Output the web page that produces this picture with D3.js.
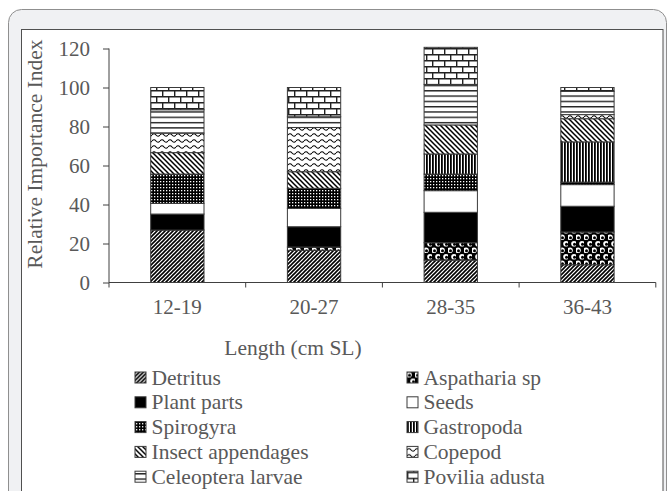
<!DOCTYPE html>
<html lang="en">
<head>
  <meta charset="utf-8">
  <title>Relative Importance Index</title>
  <script src="https://cdn.jsdelivr.net/npm/d3@7/dist/d3.min.js"></script>
  <style>
    body { margin: 0; background: #fff; }
  </style>
</head>
<body>
  <script>
    // data
    var categories = ["12-19", "20-27", "28-35", "36-43"];
    var seriesNames = ["Detritus", "Aspatharia sp", "Plant parts", "Seeds", "Spirogyra",
                       "Gastropoda", "Insect appendages", "Copepod", "Celeoptera larvae", "Povilia adusta"];
    var detritus   = [26.9, 16.5, 11.5, 9.1];
    var aspatharia = [0, 1.7, 8.9, 16.8];
    var plantParts = [8.2, 10.4, 15.6, 13.2];
    var seeds      = [5.5, 9.4, 11.1, 11.1];
    var spirogyra  = [15, 10.3, 8.5, 1.3];
    var gastropoda = [0, 0, 10.3, 20.6];
    var insect     = [11, 8.5, 14.9, 11.9];
    var copepod    = [10, 22.7, 0, 2.1];
    var celeoptera = [12, 5.5, 20.8, 11.9];
    var povilia    = [11.4, 15, 19, 2.0];
    var yTicks = [0, 20, 40, 60, 80, 100, 120];

    var seriesValues = [detritus, aspatharia, plantParts, seeds, spirogyra,
                        gastropoda, insect, copepod, celeoptera, povilia];
    var patternIds = ["p-detritus", "p-aspatharia", "p-plant", "p-seeds", "p-spirogyra",
                      "p-gastropoda", "p-insect", "p-copepod", "p-celeoptera", "p-povilia"];

    var serif = '"Liberation Serif", "Times New Roman", serif';
    var textGray = "#595959";

    var table = categories.map(function(c, i) {
      var row = { cat: c };
      seriesNames.forEach(function(s, j) { row[s] = seriesValues[j][i]; });
      return row;
    });

    var w = 669, h = 491;
    var svg = d3.select("body").append("svg")
                .attr("width", w)
                .attr("height", h)
                .style("font-family", serif);

    // panel frame
    svg.append("rect")
       .attr("x", 8.5).attr("y", 9.5)
       .attr("width", 658).attr("height", 520)
       .attr("rx", 13)
       .attr("fill", "#f0f1f3")
       .attr("stroke", "#8f8f8f");
    svg.append("rect")
       .attr("x", 21.5).attr("y", 29.5)
       .attr("width", 641.5).attr("height", 480)
       .attr("fill", "#fff")
       .attr("stroke", "#505050");

    // fill patterns
    var defs = svg.append("defs");
    function pat(id, pw, ph) {
      return defs.append("pattern")
                 .attr("id", id)
                 .attr("patternUnits", "userSpaceOnUse")
                 .attr("width", pw).attr("height", ph);
    }
    var p;
    p = pat("p-detritus", 4, 4);
    p.append("rect").attr("width", 4).attr("height", 4).attr("fill", "#fff");
    p.append("path").attr("d", "M-1,1 l2,-2 M0,4 l4,-4 M3,5 l2,-2")
     .attr("stroke", "#000").attr("stroke-width", 1.6);

    p = pat("p-aspatharia", 8, 13);
    p.append("rect").attr("width", 8).attr("height", 13).attr("fill", "#000");
    [[2, 3.2], [6, 9.7]].forEach(function(c) {
      p.append("circle").attr("cx", c[0]).attr("cy", c[1]).attr("r", 2.8).attr("fill", "#fff");
      p.append("circle").attr("cx", c[0] + 0.5).attr("cy", c[1] + 0.5).attr("r", 1.5).attr("fill", "#000");
    });

    p = pat("p-plant", 4, 4);
    p.append("rect").attr("width", 4).attr("height", 4).attr("fill", "#000");

    p = pat("p-seeds", 4, 4);
    p.append("rect").attr("width", 4).attr("height", 4).attr("fill", "#fff");

    p = pat("p-spirogyra", 3, 3);
    p.append("rect").attr("width", 3).attr("height", 3).attr("fill", "#000");
    p.append("rect").attr("x", 1).attr("y", 1).attr("width", 1.3).attr("height", 1.3).attr("fill", "#fff");

    p = pat("p-gastropoda", 3, 3);
    p.append("rect").attr("width", 3).attr("height", 3).attr("fill", "#fff");
    p.append("rect").attr("width", 1.8).attr("height", 3).attr("fill", "#000");

    p = pat("p-insect", 5, 5);
    p.append("rect").attr("width", 5).attr("height", 5).attr("fill", "#fff");
    p.append("path").attr("d", "M0,0 l5,5 M-1,4 l2,2 M4,-1 l2,2")
     .attr("stroke", "#000").attr("stroke-width", 1.5);

    p = pat("p-copepod", 8, 6);
    p.append("rect").attr("width", 8).attr("height", 6).attr("fill", "#fff");
    p.append("path").attr("d", "M0,3 Q2,0.5 4,3 T8,3")
     .attr("fill", "none").attr("stroke", "#000").attr("stroke-width", 1.1);

    p = pat("p-celeoptera", 5, 5.3);
    p.append("rect").attr("width", 5).attr("height", 5.3).attr("fill", "#fff");
    p.append("rect").attr("y", 0).attr("width", 5).attr("height", 1.4).attr("fill", "#222");

    p = pat("p-povilia", 12, 12);
    p.append("rect").attr("width", 12).attr("height", 12).attr("fill", "#fff");
    p.append("path").attr("d", "M0,0.7 H12 M0,6.7 H12 M0.7,0 V6 M6.7,6 V12")
     .attr("stroke", "#222").attr("stroke-width", 1.4);

    // scales
    var yTop = 48.5, yBot = 282.5, xLeft = 109, xRight = 655.8;
    var x = d3.scaleBand().domain(categories).range([xLeft, xRight]).padding(0);
    var y = d3.scaleLinear().domain([0, 120]).range([yBot, yTop]);
    var barW = x.bandwidth() * 0.39;

    var stack = d3.stack().keys(seriesNames);
    var layers = stack(table);

    var plotG = svg.append("g");
    plotG.selectAll(".layer")
         .data(layers)
         .enter()
           .append("g")
           .classed("layer", true)
           .attr("fill", function(d, i) { return "url(#" + patternIds[i] + ")"; })
         .selectAll("rect")
         .data(function(d) { return d.filter(function(s) { return s[1] - s[0] > 0; }); })
         .enter()
           .append("rect")
           .attr("x", function(d) { return x(d.data.cat) + (x.bandwidth() - barW) / 2; })
           .attr("width", barW)
           .attr("y", function(d) { return y(d[1]); })
           .attr("height", function(d) { return y(d[0]) - y(d[1]); })
           .attr("stroke", "#3a3a3a")
           .attr("stroke-width", 1);

    // y axis
    var yAxis = d3.axisLeft(y).tickValues(yTicks).tickSize(6).tickPadding(13);
    var yG = svg.append("g")
                .attr("transform", "translate(" + xLeft + ",0)")
                .call(yAxis)
                .attr("font-family", null);
    yG.select(".domain").attr("stroke", "#404040").attr("d", "M0," + yTop + "V" + yBot);
    yG.selectAll(".tick line").attr("stroke", "#404040");
    yG.selectAll("text").attr("font-size", 21).style("font-family", serif).attr("fill", textGray);

    // x axis
    var xAxis = d3.axisBottom(x).tickSize(0);
    var xG = svg.append("g")
                .attr("transform", "translate(0," + yBot + ")")
                .call(xAxis)
                .attr("font-family", null);
    xG.select(".domain").attr("stroke", "#404040").attr("d", "M" + xLeft + ",0H" + xRight);
    xG.selectAll("text").attr("y", 31.5).attr("dy", null)
      .attr("font-size", 21).style("font-family", serif).attr("fill", textGray);
    xG.selectAll(".edge")
      .data(categories.map(function(c) { return x(c); }).concat([xRight]))
      .enter()
        .append("line")
        .classed("edge", true)
        .attr("x1", function(d) { return d; })
        .attr("x2", function(d) { return d; })
        .attr("y1", 0).attr("y2", 5)
        .attr("stroke", "#404040");

    // axis titles
    svg.append("text")
       .attr("transform", "translate(42,154) rotate(-90)")
       .attr("text-anchor", "middle")
       .attr("font-size", 21.5)
       .attr("fill", textGray)
       .style("font-family", serif)
       .text("Relative Importance Index");
    svg.append("text")
       .attr("x", 293).attr("y", 355)
       .attr("text-anchor", "middle")
       .attr("font-size", 21.5)
       .attr("fill", textGray)
       .style("font-family", serif)
       .text("Length (cm SL)");

    // legend, two columns, row-major
    var legend = svg.append("g");
    var item = legend.selectAll(".item")
                     .data(seriesNames)
                     .enter()
                       .append("g")
                       .classed("item", true)
                       .attr("transform", function(d, i) {
                         var col = i % 2, row = Math.floor(i / 2);
                         return "translate(" + (col ? 407 : 135) + "," + (384.5 + row * 24.8) + ")";
                       });
    item.append("rect")
        .attr("x", 0).attr("y", -12.5)
        .attr("width", 11).attr("height", 11)
        .attr("fill", function(d, i) { return "url(#" + patternIds[i] + ")"; })
        .attr("stroke", "#3a3a3a");
    item.append("text")
        .attr("x", 16.5).attr("y", 0)
        .attr("font-size", 21.5)
        .attr("fill", textGray)
        .style("font-family", serif)
        .text(function(d) { return d; });
  </script>
</body>
</html>
